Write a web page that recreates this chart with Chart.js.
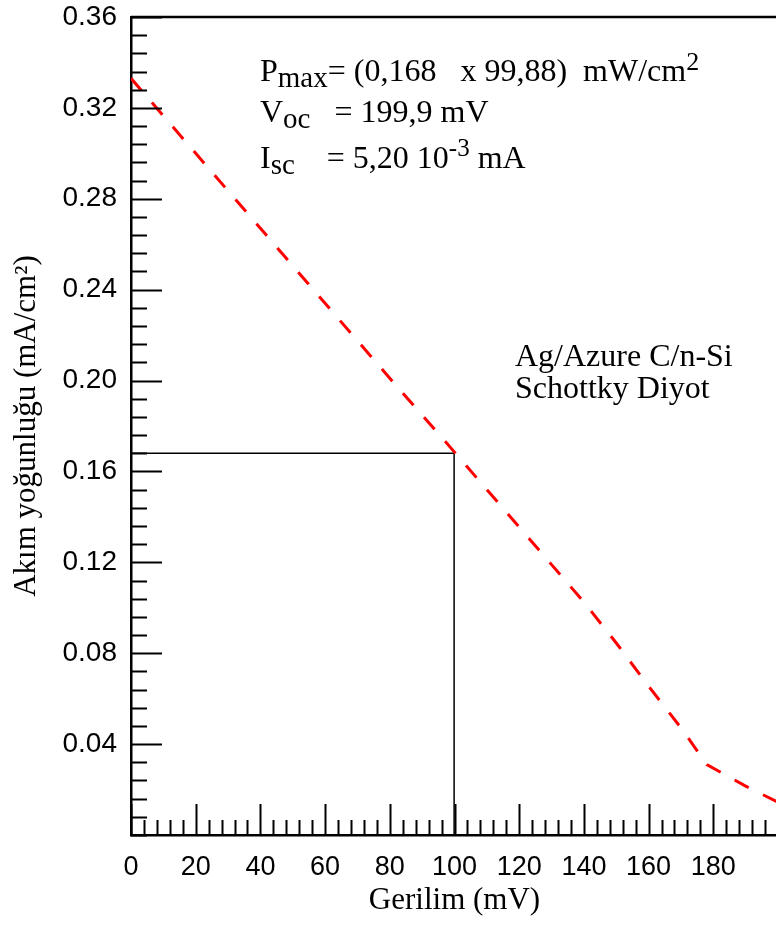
<!DOCTYPE html>
<html>
<head>
<meta charset="utf-8">
<script src="https://cdn.jsdelivr.net/npm/chart.js@4.4.0/dist/chart.umd.min.js"></script>
<style>
  html, body { margin: 0; padding: 0; background: #fff; overflow: hidden; }
  #wrap { width: 780px; height: 927px; }
</style>
</head>
<body>
<div id="wrap"><canvas id="chartJV" width="780" height="927"></canvas></div>
<script>
// J-V curve
const voltage = [0, 10, 20, 30, 40, 50, 60, 70, 80, 90, 100, 110, 120, 130, 140, 150, 160, 170, 178, 190, 199.9];
const currentDensity = [0.333, 0.3165, 0.300, 0.2835, 0.267, 0.2505, 0.234, 0.2175, 0.201, 0.1848, 0.1685,
  0.152, 0.1355, 0.119, 0.1025, 0.0845, 0.0655, 0.0472, 0.031, 0.0215, 0.0145];

// maximum power rectangle
const pmaxV = 99.88;
const pmaxJ = 0.168;

const xTickLabels = ['0', '20', '40', '60', '80', '100', '120', '140', '160', '180'];
const yTickLabels = ['0.04', '0.08', '0.12', '0.16', '0.20', '0.24', '0.28', '0.32', '0.36'];
const xMinorStep = 4;
const yMinorStep = 0.008;

const serif = '"Liberation Serif", "Times New Roman", serif';
const sans = '"Liberation Sans", Arial, sans-serif';

function buildTicks(max, step, labels) {
  const ticks = [];
  for (let i = 0; i * step <= max + 1e-9; i++) {
    const v = +(i * step).toFixed(4);
    const lab = labels.find((l) => Math.abs(parseFloat(l) - v) < 1e-6);
    ticks.push({ value: v, major: lab !== undefined, label: lab || '' });
  }
  return ticks;
}

const innerTicks = {
  id: 'innerTicks',
  afterDraw(chart) {
    const { ctx, chartArea: a, scales: { x, y } } = chart;
    ctx.save();
    ctx.strokeStyle = '#000';
    ctx.lineWidth = 2;
    ctx.beginPath();
    x.ticks.forEach((t) => {
      const px = Math.round(x.getPixelForValue(t.value)) + 0.5;
      ctx.moveTo(px, a.bottom);
      ctx.lineTo(px, a.bottom - (t.major ? 31 : 15));
    });
    y.ticks.forEach((t) => {
      const py = Math.round(y.getPixelForValue(t.value)) + 0.5;
      ctx.moveTo(a.left, py);
      ctx.lineTo(a.left + (t.major ? 31 : 16), py);
    });
    ctx.stroke();
    // frame top
    ctx.lineWidth = 2.5;
    ctx.beginPath();
    ctx.moveTo(a.left, a.top);
    ctx.lineTo(a.right, a.top);
    ctx.stroke();
    ctx.restore();
  }
};

function drawRuns(ctx, x, y, runs) {
  runs.forEach((r) => {
    ctx.font = r.size + 'px ' + serif;
    ctx.fillText(r.text, x, y + (r.dy || 0));
    x += ctx.measureText(r.text).width;
  });
}

const notes = {
  id: 'notes',
  afterDraw(chart) {
    const ctx = chart.ctx;
    ctx.save();
    ctx.fillStyle = '#000';
    ctx.textBaseline = 'alphabetic';
    drawRuns(ctx, 260, 81, [
      { text: 'P', size: 32 },
      { text: 'max', size: 29, dy: 6 },
      { text: '= (0,168   x 99,88)  mW/cm', size: 32 },
      { text: '2', size: 26, dy: -11 }
    ]);
    drawRuns(ctx, 260, 122, [
      { text: 'V', size: 32 },
      { text: 'oc', size: 29, dy: 6 },
      { text: '   = 199,9 mV', size: 32 }
    ]);
    drawRuns(ctx, 260, 168, [
      { text: 'I', size: 32 },
      { text: 'sc', size: 29, dy: 6 },
      { text: '    = 5,20 10', size: 32 },
      { text: '-3', size: 25, dy: -12 },
      { text: ' mA', size: 32 }
    ]);
    ctx.font = '32px ' + serif;
    ctx.fillText('Ag/Azure C/n-Si', 515, 366);
    ctx.fillText('Schottky Diyot', 515, 398);
    ctx.restore();
  }
};

new Chart(document.getElementById('chartJV'), {
  type: 'scatter',
  data: {
    datasets: [
      {
        data: voltage.map((v, i) => ({ x: v, y: currentDensity[i] })),
        showLine: true,
        borderColor: '#ff0000',
        borderWidth: 3,
        borderDash: [16, 16],
        pointRadius: 0,
        tension: 0
      },
      {
        data: [{ x: 0, y: pmaxJ }, { x: pmaxV, y: pmaxJ }, { x: pmaxV, y: 0 }],
        showLine: true,
        borderColor: '#000',
        borderWidth: 1.5,
        pointRadius: 0,
        tension: 0
      }
    ]
  },
  options: {
    responsive: false,
    animation: false,
    layout: { padding: { top: 17, right: 2, left: 0, bottom: 0 } },
    plugins: { legend: { display: false }, tooltip: { enabled: false } },
    scales: {
      x: {
        type: 'linear',
        min: 0,
        max: 200,
        afterBuildTicks: (s) => { s.ticks = buildTicks(200, xMinorStep, xTickLabels); },
        afterFit: (s) => { s.height = 92; s.paddingLeft = 0; s.paddingRight = 0; },
        grid: { display: false, drawTicks: false },
        border: { display: true, color: '#000', width: 2.5 },
        ticks: {
          autoSkip: false,
          maxRotation: 0,
          minRotation: 0,
          padding: 16,
          color: '#000',
          font: { family: sans, size: 27 },
          callback: (v, i, ticks) => ticks[i].label
        },
        title: {
          display: true,
          text: 'Gerilim (mV)',
          color: '#000',
          font: { family: serif, size: 31 },
          padding: { top: 0, bottom: 8 }
        }
      },
      y: {
        type: 'linear',
        min: 0,
        max: 0.36,
        afterBuildTicks: (s) => { s.ticks = buildTicks(0.36, yMinorStep, yTickLabels); },
        afterFit: (s) => { s.width = 131; s.paddingTop = 0; s.paddingBottom = 0; },
        grid: { display: false, drawTicks: false },
        border: { display: true, color: '#000', width: 2.5 },
        ticks: {
          autoSkip: false,
          padding: 14,
          color: '#000',
          font: { family: sans, size: 28 },
          callback: (v, i, ticks) => ticks[i].label
        },
        title: {
          display: true,
          text: 'Akım yoğunluğu (mA/cm²)',
          color: '#000',
          font: { family: serif, size: 31 },
          padding: { top: 8, bottom: 0 }
        }
      }
    }
  },
  plugins: [innerTicks, notes]
});
</script>
</body>
</html>
